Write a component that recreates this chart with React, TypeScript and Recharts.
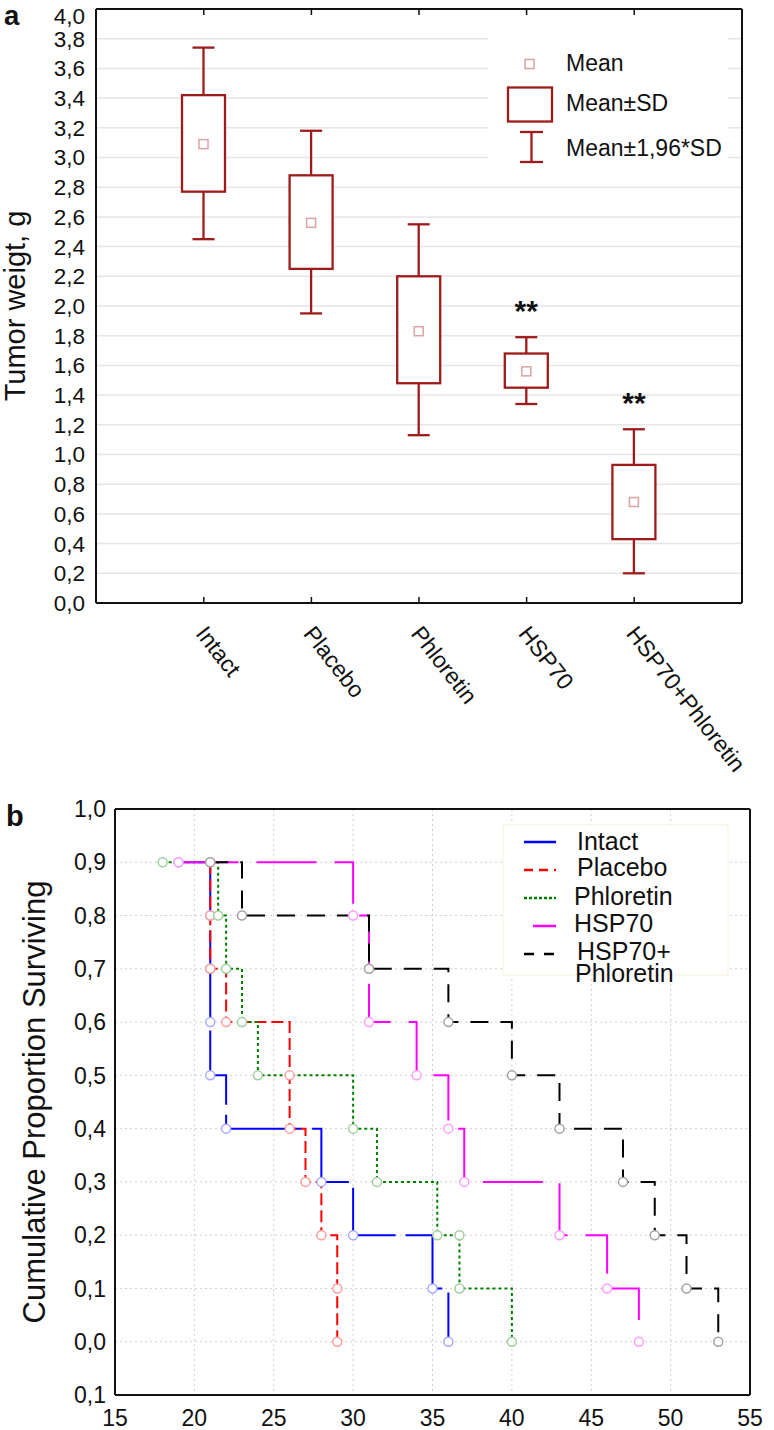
import {
  ComposedChart,
  Bar,
  LabelList,
  LineChart,
  Line,
  XAxis,
  YAxis,
  CartesianGrid,
} from "recharts";

const FONT = "'Liberation Sans', Arial, sans-serif";

// ---- panel a: tumor weight ----
const groups = ["Intact", "Placebo", "Phloretin", "HSP70", "HSP70+Phloretin"];
const weightMean = [3.09, 2.56, 1.83, 1.56, 0.68];
const weightSdLow = [2.77, 2.25, 1.48, 1.45, 0.43];
const weightSdHigh = [3.42, 2.88, 2.2, 1.68, 0.93];
const weightCiLow = [2.45, 1.95, 1.13, 1.34, 0.2];
const weightCiHigh = [3.74, 3.18, 2.55, 1.79, 1.17];
const significance = ["", "", "", "**", "**"];
const weightTicks = [0, 0.2, 0.4, 0.6, 0.8, 1, 1.2, 1.4, 1.6, 1.8, 2, 2.2, 2.4, 2.6, 2.8, 3, 3.2, 3.4, 3.6, 3.8, 4];

// ---- panel b: survival ----
const dayTicks = [15, 20, 25, 30, 35, 40, 45, 50, 55];
const dayTopTicks = [19, 23, 27, 31, 35, 39, 43, 47, 51];
const survivalTicks = [-0.1, 0, 0.1, 0.2, 0.3, 0.4, 0.5, 0.6, 0.7, 0.8, 0.9, 1];

const intactDays = [19, 21, 21, 21, 21, 22, 28, 30, 35, 36];
const intactSurv = [0.9, 0.8, 0.7, 0.6, 0.5, 0.4, 0.3, 0.2, 0.1, 0];
const placeboDays = [21, 21, 21, 22, 26, 26, 27, 28, 29, 29];
const placeboSurv = [0.9, 0.8, 0.7, 0.6, 0.5, 0.4, 0.3, 0.2, 0.1, 0];
const phloretinDays = [18, 21.5, 22, 23, 24, 30, 31.5, 35.3, 36.7, 36.7, 40];
const phloretinSurv = [0.9, 0.8, 0.7, 0.6, 0.5, 0.4, 0.3, 0.2, 0.2, 0.1, 0];
const hspDays = [19, 30, 31, 31, 34, 36, 37, 43, 46, 48];
const hspSurv = [0.9, 0.8, 0.7, 0.6, 0.5, 0.4, 0.3, 0.2, 0.1, 0];
const comboDays = [21, 23, 31, 36, 40, 43, 47, 49, 51, 53];
const comboSurv = [0.9, 0.8, 0.7, 0.6, 0.5, 0.4, 0.3, 0.2, 0.1, 0];

const BOX_RED = "#9e1b1b";

const boxData = groups.map((name, i) => ({
  name,
  mean: weightMean[i],
  sdLow: weightSdLow[i],
  sdHigh: weightSdHigh[i],
  ciLow: weightCiLow[i],
  ciHigh: weightCiHigh[i],
  range: [weightCiLow[i], weightCiHigh[i]],
  mark: significance[i],
}));

const toPoints = (days: number[], surv: number[]) =>
  days.map((t, i) => ({ t, s: surv[i] }));

const survivalSeries = [
  { name: "Intact", data: toPoints(intactDays, intactSurv), color: "#0000ff", dot: "#a9a9ff", dash: "90 10", legendDash: undefined },
  { name: "Placebo", data: toPoints(placeboDays, placeboSurv), color: "#ff0000", dot: "#ff9d9d", dash: "12 5", legendDash: "9 6" },
  { name: "Phloretin", data: toPoints(phloretinDays, phloretinSurv), color: "#008000", dot: "#9fcf9f", dash: "3 3", legendDash: "3 2" },
  { name: "HSP70", data: toPoints(hspDays, hspSurv), color: "#ff00ff", dot: "#ff9dff", dash: "60 18", legendDash: undefined },
  { name: "HSP70+Phloretin", data: toPoints(comboDays, comboSurv), color: "#000000", dot: "#a3a3a3", dash: "18 12", legendDash: "10 10" },
];

const comma = (v: number) => Math.abs(v).toFixed(1).replace(".", ",");

function BoxShape(props: any) {
  const { x, y, width, height } = props;
  const p = props.payload ?? props;
  const top = Math.min(y, y + height);
  const bottom = Math.max(y, y + height);
  const toPx = (v: number) =>
    bottom - ((v - p.ciLow) / (p.ciHigh - p.ciLow)) * (bottom - top);
  const cx = x + width / 2;
  const hiBox = toPx(p.sdHigh);
  const loBox = toPx(p.sdLow);
  const m = toPx(p.mean);
  return (
    <g stroke={BOX_RED} strokeWidth={2.3} fill="none">
      <line x1={cx} x2={cx} y1={top} y2={hiBox} />
      <line x1={cx} x2={cx} y1={loBox} y2={bottom} />
      <line x1={cx - 11} x2={cx + 11} y1={top} y2={top} />
      <line x1={cx - 11} x2={cx + 11} y1={bottom} y2={bottom} />
      <rect x={x} y={hiBox} width={width} height={loBox - hiBox} fill="#fff" />
      <rect x={cx - 4.5} y={m - 4.5} width={9} height={9} stroke="#dba4a4" strokeWidth={1.5} />
    </g>
  );
}

function GroupTick({ x, y, payload }: any) {
  return (
    <text
      transform={`translate(${x - 9}, ${y + 31}) rotate(52)`}
      fontSize={23}
      fill="#111"
      fontFamily={FONT}
    >
      {payload.value}
    </text>
  );
}

// top label sits a little lower, clear of the frame
function WeightTick({ x, y, payload }: any) {
  return (
    <text
      x={x}
      y={Math.max(y, 16)}
      dy="0.355em"
      textAnchor="end"
      fontSize={22.5}
      fill="#111"
      fontFamily={FONT}
    >
      {comma(payload.value)}
    </text>
  );
}

const pad = { left: 54, right: 54 };

export default function App() {
  return (
    <div style={{ position: "absolute", left: 0, top: 0, width: 774, height: 1430, background: "#fff", fontFamily: FONT }}>
      <div style={{ position: "absolute", left: 0, top: 0 }}>
        <ComposedChart
          width={774}
          height={790}
          data={boxData}
          margin={{ top: 9, right: 32, bottom: 0, left: 0 }}
        >
          <CartesianGrid vertical={false} stroke="#e6e6e6" strokeWidth={1.5} />
          <XAxis
            dataKey="name"
            type="category"
            padding={pad}
            height={187}
            tickLine={false}
            tickSize={0}
            tickMargin={0}
            axisLine={{ stroke: "#111", strokeWidth: 2 }}
            tick={<GroupTick />}
            interval={0}
          />
          <XAxis
            xAxisId="bticks"
            dataKey="name"
            type="category"
            padding={pad}
            orientation="bottom"
            mirror
            axisLine={false}
            tickSize={6}
            tickLine={{ stroke: "#111", strokeWidth: 1.5 }}
            tickFormatter={() => ""}
            interval={0}
          />
          <XAxis
            xAxisId="top"
            dataKey="name"
            type="category"
            padding={pad}
            orientation="top"
            mirror
            axisLine={{ stroke: "#111", strokeWidth: 2 }}
            tickSize={6}
            tickLine={{ stroke: "#111", strokeWidth: 1.5 }}
            tickFormatter={() => ""}
            interval={0}
          />
          <YAxis
            type="number"
            domain={[0, 4]}
            ticks={weightTicks}
            interval={0}
            width={96}
            tickLine={false}
            tickSize={0}
            tickMargin={11}
            tick={<WeightTick />}
            axisLine={{ stroke: "#111", strokeWidth: 2 }}
            label={{
              value: "Tumor weigt, g",
              angle: -90,
              position: "insideLeft",
              offset: 15,
              fontSize: 29,
              fill: "#111",
              fontFamily: FONT,
              style: { textAnchor: "middle" },
            }}
          />
          <YAxis
            yAxisId="lticks"
            type="number"
            domain={[0, 4]}
            ticks={weightTicks}
            interval={0}
            orientation="left"
            mirror
            axisLine={false}
            tickSize={6}
            tickLine={{ stroke: "#111", strokeWidth: 1.5 }}
            tickFormatter={() => ""}
          />
          <YAxis
            yAxisId="right"
            type="number"
            domain={[0, 4]}
            ticks={weightTicks}
            interval={0}
            orientation="right"
            mirror
            axisLine={{ stroke: "#111", strokeWidth: 2 }}
            tickSize={6}
            tickLine={{ stroke: "#111", strokeWidth: 1.5 }}
            tickFormatter={() => ""}
          />
          <Bar dataKey="range" barSize={43} shape={<BoxShape />} isAnimationActive={false}>
            <LabelList
              dataKey="mark"
              position="top"
              offset={16}
              fill="#111"
              fontSize={30}
              fontWeight="bold"
              fontFamily={FONT}
            />
          </Bar>
        </ComposedChart>
      </div>

      <div style={{ position: "absolute", left: 0, top: 780 }}>
        <LineChart width={774} height={650} margin={{ top: 29, right: 24, bottom: 0, left: 0 }}>
          <CartesianGrid stroke="#cfcfcf" strokeDasharray="2 3" />
          <XAxis
            dataKey="t"
            type="number"
            domain={[15, 55]}
            ticks={dayTicks}
            interval={0}
            height={35}
            tickLine={false}
            tickSize={0}
            tickMargin={15}
            tick={{ fontSize: 23, fill: "#111", fontFamily: FONT }}
            axisLine={{ stroke: "#111", strokeWidth: 2 }}
            allowDuplicatedCategory
          />
          <XAxis
            xAxisId="bticks"
            type="number"
            domain={[15, 55]}
            ticks={dayTicks}
            interval={0}
            orientation="bottom"
            mirror
            axisLine={false}
            tickSize={6}
            tickLine={{ stroke: "#111", strokeWidth: 1.5 }}
            tickFormatter={() => ""}
          />
          <XAxis
            xAxisId="top"
            type="number"
            domain={[15, 55]}
            ticks={dayTopTicks}
            interval={0}
            orientation="top"
            mirror
            axisLine={{ stroke: "#111", strokeWidth: 2 }}
            tickSize={6}
            tickLine={{ stroke: "#111", strokeWidth: 1.5 }}
            tickFormatter={() => ""}
          />
          <YAxis
            type="number"
            domain={[-0.1, 1]}
            ticks={survivalTicks}
            interval={0}
            width={115}
            tickLine={false}
            tickSize={0}
            tickMargin={9}
            tickFormatter={comma}
            tick={{ fontSize: 23, fill: "#111", fontFamily: FONT }}
            axisLine={{ stroke: "#111", strokeWidth: 2 }}
            label={{
              value: "Cumulative Proportion Surviving",
              angle: -90,
              position: "insideLeft",
              offset: 34,
              fontSize: 31,
              fill: "#111",
              fontFamily: FONT,
              style: { textAnchor: "middle" },
            }}
          />
          <YAxis
            yAxisId="lticks"
            type="number"
            domain={[-0.1, 1]}
            ticks={survivalTicks}
            interval={0}
            orientation="left"
            mirror
            axisLine={false}
            tickSize={6}
            tickLine={{ stroke: "#111", strokeWidth: 1.5 }}
            tickFormatter={() => ""}
          />
          <YAxis
            yAxisId="right"
            type="number"
            domain={[-0.1, 1]}
            ticks={survivalTicks}
            interval={0}
            orientation="right"
            mirror
            axisLine={{ stroke: "#111", strokeWidth: 2 }}
            tickSize={6}
            tickLine={{ stroke: "#111", strokeWidth: 1.5 }}
            tickFormatter={() => ""}
          />
          {survivalSeries.map((s) => (
            <Line
              key={s.name}
              data={s.data}
              dataKey="s"
              type="stepAfter"
              stroke={s.color}
              strokeWidth={2}
              strokeDasharray={s.dash}
              dot={{ r: 4.5, stroke: s.dot, strokeWidth: 1.5, fill: "#fff", strokeDasharray: "none" }}
              activeDot={false}
              isAnimationActive={false}
            />
          ))}
        </LineChart>
      </div>

      <svg
        width={774}
        height={1430}
        style={{ position: "absolute", left: 0, top: 0, pointerEvents: "none" }}
        fontFamily={FONT}
      >
        <text x={4} y={25} fontSize={27.5} fontWeight="bold" fill="#111">a</text>
        <text x={6} y={826} fontSize={29} fontWeight="bold" fill="#111">b</text>

        {/* legend a */}
        <rect x={488} y={25} width={240} height={150} fill="#fff" />
        <rect x={525} y={59.5} width={9} height={9} fill="none" stroke="#dba4a4" strokeWidth={1.5} />
        <text x={566} y={71} fontSize={23} fill="#111">Mean</text>
        <rect x={508} y={87.5} width={44} height={34} fill="#fff" stroke={BOX_RED} strokeWidth={2.3} />
        <text x={566} y={111} fontSize={23} fill="#111">Mean±SD</text>
        <g stroke={BOX_RED} strokeWidth={2.3}>
          <line x1={531.5} x2={531.5} y1={132} y2={162} />
          <line x1={520} x2={543} y1={132} y2={132} />
          <line x1={520} x2={543} y1={162} y2={162} />
        </g>
        <text x={566} y={156} fontSize={23} fill="#111">Mean±1,96*SD</text>

        {/* legend b */}
        <rect x={503} y={825} width={225} height={150} fill="#fff" stroke="#f6efdc" />
        {survivalSeries.map((s, i) => (
          <line
            key={s.name}
            x1={i === 3 ? 533 : 524}
            x2={556}
            y1={842 + i * 28}
            y2={842 + i * 28}
            stroke={s.color}
            strokeWidth={2.5}
            strokeDasharray={s.legendDash}
          />
        ))}
        <text x={577} y={850} fontSize={25} fill="#111">Intact</text>
        <text x={577} y={876} fontSize={25} fill="#111">Placebo</text>
        <text x={574} y={905} fontSize={25} fill="#111">Phloretin</text>
        <text x={574} y={932} fontSize={25} fill="#111">HSP70</text>
        <text x={577} y={960} fontSize={25} fill="#111">HSP70+</text>
        <text x={575} y={982} fontSize={25} fill="#111">Phloretin</text>
      </svg>
    </div>
  );
}
